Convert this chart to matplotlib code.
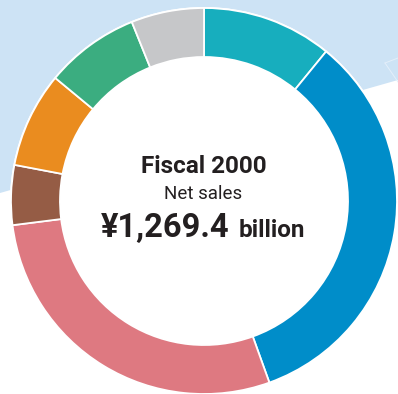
import matplotlib.pyplot as plt
from matplotlib.patches import Polygon, Circle

# Net sales breakdown by segment (share of total, %), clockwise from 12 o'clock
segments = ['Seg A', 'Seg B', 'Seg C', 'Seg D', 'Seg E', 'Seg F', 'Seg G']
shares = [10.9, 33.6, 28.5, 5.0, 8.0, 7.9, 6.1]
colors = ['#17aebe', '#008dc9', '#de7981', '#955c45', '#ea8c1f', '#3bad80', '#c6c7c9']

title = 'Fiscal 2000'
subtitle = 'Net sales'
amount = '¥1,269.4'
unit = 'billion'

W, H = 398, 394
fig = plt.figure(figsize=(W / 100, H / 100), dpi=100)
ax = fig.add_axes([0, 0, 1, 1])

# light blue backdrop band across the top
ax.add_patch(Polygon([(0, H), (W, H), (W, H - 80), (0, H - 193)],
                     closed=True, facecolor='#cde3f5', edgecolor='none', zorder=0))
ax.plot([385, 398], [H - 63, H - 58], color='#e4effa', lw=0.7, zorder=0.2)
ax.plot([385, 398], [H - 63, H - 82], color='#e4effa', lw=0.7, zorder=0.2)

cx, cy, r_out, r_in = 204, H - 201, 193, 144
# white disc so the hole of the ring is not tinted by the backdrop
ax.add_patch(Circle((cx, cy), r_out + 1, facecolor='white', edgecolor='none', zorder=0.5))
ax.pie(shares, colors=colors, startangle=90, counterclock=False,
       center=(cx, cy), radius=r_out,
       wedgeprops=dict(width=r_out - r_in, edgecolor='white', linewidth=1.3))

ax.set_xlim(0, W)
ax.set_ylim(0, H)
ax.set_aspect('auto')
ax.axis('off')

plt.rcParams['font.family'] = ['Roboto', 'DejaVu Sans']
txt = '#231f20'
ax.text(cx, H - 173, title, ha='center', va='baseline', fontsize=17.5,
        fontweight='bold', color=txt)
ax.text(cx - 1, H - 199, subtitle, ha='center', va='baseline', fontsize=13.5, color=txt)
t1 = ax.text(0, H - 237, amount, ha='left', va='baseline', fontsize=23.5,
             fontweight='bold', color=txt)
t2 = ax.text(0, H - 237, unit, ha='left', va='baseline', fontsize=17.5,
             fontweight='bold', color=txt)

# center the amount + unit line under the title
fig.canvas.draw()
r = fig.canvas.get_renderer()
inv = ax.transData.inverted()
b1 = t1.get_window_extent(r).transformed(inv)
b2 = t2.get_window_extent(r).transformed(inv)
gap = 9
total = b1.width + gap + b2.width
x0 = cx - 1 - total / 2
t1.set_x(x0)
t2.set_x(x0 + b1.width + gap)

fig.savefig('out.png', dpi=100, facecolor='white')
